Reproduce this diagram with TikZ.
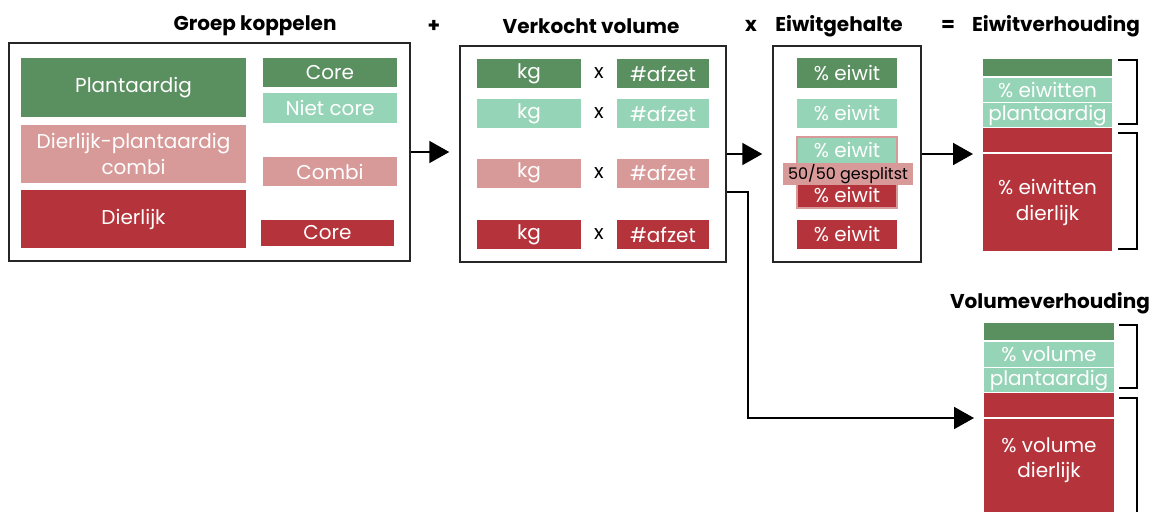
\documentclass[tikz,border=0pt]{standalone}
\usepackage{fontspec}
\setmainfont{Poppins}
\usetikzlibrary{arrows.meta}

\definecolor{donkergroen}{RGB}{90,143,96}
\definecolor{lichtgroen}{RGB}{150,212,183}
\definecolor{lichtrood}{RGB}{216,154,153}
\definecolor{donkerrood}{RGB}{181,51,58}

\tikzset{
  blok/.style={fill=#1, text=white, inner sep=0pt, align=center,
    font=\fontsize{20}{26}\selectfont},
  kader/.style={draw=black!85, line width=1.5pt, inner sep=0pt},
  kop/.style={font=\bfseries\fontsize{20}{22}\selectfont},
  pijl/.style={line width=2pt, -{Triangle[length=20pt,width=22pt]}, shorten >=10pt},
  haak/.style={line width=2pt}
}

\begin{document}
\begin{tikzpicture}[x=1pt,y=-1pt]
\useasboundingbox (0,0) rectangle (1153,511);

% koppen
\node[kop] (k1) at (255,26) {Groep koppelen};
\node[kop] (k2) at (434,26) {+};
\node[kop] (k3) at (591,26) {Verkocht volume};
\node[kop] (k4) at (751,26) {x};
\node[kop] (k5) at (839,26) {Eiwitgehalte};
\node[kop] (k6) at (948,26) {=};
\node[kop] (k7) at (1056,26) {Eiwitverhouding};
\node[kop] (k8) at (1050,303) {Volumeverhouding};

% kaders
\node[kader, minimum width=401, minimum height=218] (groep) at (209.5,152) {};
\node[kader, minimum width=266, minimum height=216] (verkocht) at (593,154) {};
\node[kader, minimum width=148, minimum height=216] (eiwit) at (847,154) {};

% groep koppelen
\node[blok=donkergroen, minimum width=225, minimum height=59] (plant) at (133.5,87.5) {Plantaardig};
\node[blok=lichtrood, minimum width=225, minimum height=58] (combi) at (133.5,154) {Dierlijk-plantaardig\\combi};
\node[blok=donkerrood, minimum width=225, minimum height=58] (dier) at (133.5,219) {Dierlijk};
\node[blok=donkergroen, minimum width=134, minimum height=29] (core1) at (330,72.5) {Core};
\node[blok=lichtgroen, minimum width=134, minimum height=30] (nietcore) at (330,108) {Niet core};
\node[blok=lichtrood, minimum width=134, minimum height=29] (combi2) at (330,171.5) {Combi};
\node[blok=donkerrood, minimum width=133, minimum height=26] (core2) at (327.5,233) {Core};

% verkocht volume
\foreach \y/\kl [count=\i] in {73.5/donkergroen, 113.5/lichtgroen, 173/lichtrood, 234.5/donkerrood}{
  \node[blok=\kl, minimum width=104, minimum height=29] (kg\i) at (529,\y) {kg};
  \node[font=\fontsize{20}{22}\selectfont] (maal\i) at (599,\y) {x};
  \node[blok=\kl, minimum width=92, minimum height=29] (afzet\i) at (663,\y) {\#afzet};
}

% eiwitgehalte
\node[blok=donkergroen, minimum width=100, minimum height=30] (ew1) at (847,73) {\% eiwit};
\node[blok=lichtgroen, minimum width=100, minimum height=29] (ew2) at (847,113.5) {\% eiwit};
\node[blok=lichtgroen, minimum width=100, minimum height=26, anchor=north] (ew3) at (847,137) {\% eiwit};
\node[blok=donkerrood, minimum width=100, minimum height=26, anchor=south] (ew4) at (847,208) {\% eiwit};
\draw[lichtrood, line width=2pt] (ew3.north west) rectangle (ew4.south east);
\node[fill=lichtrood, inner sep=0pt, minimum width=130, minimum height=22,
  font=\fontsize{16}{18}\selectfont] (split) at (848,174) {50/50 gesplitst};
\node[blok=donkerrood, minimum width=100, minimum height=29] (ew5) at (847,234.5) {\% eiwit};

% eiwitverhouding
\node[blok=donkergroen, minimum width=129, minimum height=17, anchor=north] (e1) at (1047.5,59) {};
\node[blok=lichtgroen, minimum width=129, minimum height=24, anchor=north] (e2) at (1047.5,78) {\% eiwitten};
\node[blok=lichtgroen, minimum width=129, minimum height=24, anchor=north] (e3) at (1047.5,103) {plantaardig};
\node[blok=donkerrood, minimum width=129, minimum height=24, anchor=north] (e4) at (1047.5,128) {};
\node[blok=donkerrood, minimum width=129, minimum height=97, anchor=north] (e5) at (1047.5,154) {\% eiwitten\\dierlijk};
\draw[haak] (1118,60) -- (1137,60) -- (1137,124) -- (1118,124);
\draw[haak] (1118,133) -- (1137,133) -- (1137,249) -- (1118,249);

% volumeverhouding
\node[blok=donkergroen, minimum width=130, minimum height=17, anchor=north] (v1) at (1049,323) {};
\node[blok=lichtgroen, minimum width=130, minimum height=25, anchor=north] (v2) at (1049,342) {\% volume};
\node[blok=lichtgroen, minimum width=130, minimum height=24, anchor=north] (v3) at (1049,368) {plantaardig};
\node[blok=donkerrood, minimum width=130, minimum height=24, anchor=north] (v4) at (1049,393) {};
\fill[donkerrood] (984,419) rectangle (1114,530);
\node[text=white, align=center, font=\fontsize{20}{25}\selectfont] (v5) at (1049,460) {\% volume\\dierlijk};
\draw[haak] (1119,325) -- (1137,325) -- (1137,388) -- (1119,388);
\draw[haak] (1119,398) -- (1137,398) -- (1137,530);

% pijlen
\coordinate (evh) at (983,155);
\coordinate (knik) at (748,192);
\coordinate (vvh) at (984,418);
\draw[pijl] (groep.east) -- (groep.east -| verkocht.west);
\draw[pijl] (verkocht.east) -- (verkocht.east -| eiwit.west);
\draw[pijl] (eiwit.east) -- (eiwit.east -| evh);
\draw[pijl] (verkocht.east |- knik) -- (knik) |- (vvh);

\end{tikzpicture}
\end{document}
